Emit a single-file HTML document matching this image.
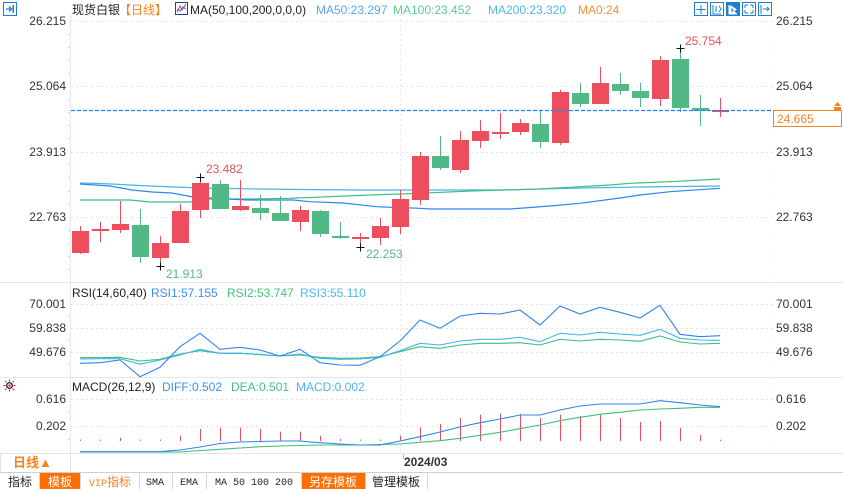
<!DOCTYPE html>
<html><head><meta charset="utf-8"><style>
html,body{margin:0;padding:0;background:#fff;width:843px;height:489px;overflow:hidden}
svg{display:block}
text{font-family:"Liberation Sans","Noto Sans CJK SC",sans-serif;font-size:12px}
.ax{fill:#333}
.mono{font-family:"Liberation Mono","Noto Sans CJK SC",monospace;font-size:10px}
</style></head><body>
<svg width="843" height="489" viewBox="0 0 843 489" xmlns="http://www.w3.org/2000/svg">
<rect width="843" height="489" fill="#fff"/>
<!-- top-left icon -->
<rect x="3.5" y="2.5" width="13" height="13" fill="none" stroke="#1e7fd0"/>
<path d="M6 9h5M9 6.5l2.5 2.5L9 11.5" stroke="#1e7fd0" fill="none" stroke-width="1.3"/>
<rect x="12.5" y="5" width="1.5" height="8" fill="#1e7fd0"/>
<!-- header -->
<text x="72" y="14" fill="#222">现货白银</text>
<text x="119" y="14" fill="#f5821f">【日线】</text>
<rect x="175.5" y="2.5" width="12" height="12" fill="#fff" stroke="#243e8e"/>
<polyline points="177,12 180,6 182,10 186,4" fill="none" stroke="#e53e4e" stroke-width="1"/>
<polyline points="177,9 180,11 183,7 186,9" fill="none" stroke="#2f6fe0" stroke-width="1"/>
<text x="190" y="14" fill="#222">MA(50,100,200,0,0,0)</text>
<text x="316" y="14" fill="#5aa6f2">MA50:23.297</text>
<text x="393" y="14" fill="#58cc95">MA100:23.452</text>
<text x="488" y="14" fill="#53b8e8">MA200:23.320</text>
<text x="578" y="14" fill="#ff8d3d">MA0:24</text>
<!-- top-right icons -->
<g stroke="#1e7fd0" fill="none">
<rect x="694.5" y="2.5" width="13" height="13"/>
<rect x="710.5" y="2.5" width="13" height="13"/>
<rect x="742.5" y="2.5" width="13" height="13"/>
<rect x="758.5" y="2.5" width="13" height="13"/>
</g>
<rect x="726" y="2" width="14" height="14" fill="#1e7fd0"/>
<path d="M701 5v9M696.5 9.5h9" stroke="#1e7fd0"/>
<path d="M713 5v9h8M716 6v6M719 6l2 3-2 3" stroke="#1e7fd0" fill="none"/>
<path d="M729 5v9h8M731 6l5 3.5-5 3.5z" stroke="#fff" fill="#fff"/>
<path d="M745 5h3M745 5v3M753 5h-3M753 5v3M745 13h3M745 13v-3M753 13h-3M753 13v-3" stroke="#1e7fd0"/>
<path d="M761 5v9M763 9h6M767 7l2 2-2 2" stroke="#1e7fd0" fill="none"/>

<!-- axes lines -->
<line x1="70.5" y1="14" x2="70.5" y2="453" stroke="#e3e9ef"/>
<line x1="775.5" y1="14" x2="775.5" y2="453" stroke="#e6e6e6" stroke-dasharray="1 12"/>
<line x1="400.5" y1="14" x2="400.5" y2="453" stroke="#e8e8e8" stroke-dasharray="2 3"/>
<!-- separators -->
<line x1="0" y1="282.5" x2="843" y2="282.5" stroke="#e6e6e6"/>
<line x1="0" y1="377.5" x2="843" y2="377.5" stroke="#e6e6e6"/>
<line x1="0" y1="453.5" x2="843" y2="453.5" stroke="#e6e6e6"/>

<!-- main grid -->
<g stroke="#e4e4e4" stroke-dasharray="2 3">
<line x1="71" y1="21.5" x2="775" y2="21.5"/>
<line x1="71" y1="86.5" x2="775" y2="86.5"/>
<line x1="71" y1="152.5" x2="775" y2="152.5"/>
<line x1="71" y1="217.5" x2="775" y2="217.5"/>
<line x1="71" y1="304.5" x2="775" y2="304.5"/>
<line x1="71" y1="328.5" x2="775" y2="328.5"/>
<line x1="71" y1="352.5" x2="775" y2="352.5"/>
<line x1="71" y1="399.5" x2="775" y2="399.5"/>
<line x1="71" y1="426.5" x2="775" y2="426.5"/>
</g>
<!-- minor ticks -->
<g fill="#cfd6dc">
<rect x="68" y="34" width="2" height="1"/><rect x="68" y="47" width="2" height="1"/><rect x="68" y="60" width="2" height="1"/><rect x="68" y="73" width="2" height="1"/>
<rect x="68" y="99" width="2" height="1"/><rect x="68" y="112" width="2" height="1"/><rect x="68" y="125" width="2" height="1"/><rect x="68" y="138" width="2" height="1"/>
<rect x="68" y="164" width="2" height="1"/><rect x="68" y="177" width="2" height="1"/><rect x="68" y="191" width="2" height="1"/><rect x="68" y="204" width="2" height="1"/>
<rect x="68" y="230" width="2" height="1"/><rect x="68" y="243" width="2" height="1"/><rect x="68" y="256" width="2" height="1"/><rect x="68" y="269" width="2" height="1"/>
<rect x="68" y="316" width="2" height="1"/><rect x="68" y="340" width="2" height="1"/><rect x="68" y="364" width="2" height="1"/>
<rect x="68" y="412" width="2" height="1"/><rect x="68" y="439" width="2" height="1"/>
</g>

<!-- axis labels main -->
<g class="ax">
<text x="66" y="25" text-anchor="end" class="ax">26.215</text>
<text x="66" y="90" text-anchor="end" class="ax">25.064</text>
<text x="66" y="156" text-anchor="end" class="ax">23.913</text>
<text x="66" y="221" text-anchor="end" class="ax">22.763</text>
<text x="776" y="25" class="ax">26.215</text>
<text x="776" y="90" class="ax">25.064</text>
<text x="776" y="156" class="ax">23.913</text>
<text x="776" y="221" class="ax">22.763</text>
<text x="66" y="308" text-anchor="end" class="ax">70.001</text>
<text x="66" y="332" text-anchor="end" class="ax">59.838</text>
<text x="66" y="356" text-anchor="end" class="ax">49.676</text>
<text x="776" y="308" class="ax">70.001</text>
<text x="776" y="332" class="ax">59.838</text>
<text x="776" y="356" class="ax">49.676</text>
<text x="66" y="403" text-anchor="end" class="ax">0.616</text>
<text x="66" y="430" text-anchor="end" class="ax">0.202</text>
<text x="776" y="403" class="ax">0.616</text>
<text x="776" y="430" class="ax">0.202</text>
</g>

<!-- MA lines -->
<polyline fill="none" stroke="#45b5e8" stroke-width="1.2" points="80,183 100,183.5 130,185 150,186 200,188 260,189 300,189.5 360,190 420,190 500,190 540,189 580,188 640,187 720,186"/>
<polyline fill="none" stroke="#3cbf7f" stroke-width="1.2" points="80,200 130,200 150,202 190,202 210,199 253,199 290,198.3 370,195 420,193.3 470,191 530,189.3 570,187.3 610,185 630,183.3 670,181.7 720,179"/>
<polyline fill="none" stroke="#2f86ec" stroke-width="1.2" points="80,184 110,186 132,190 152,192 172,193 193,197 210,198 247,200 293,200 310,201.7 343,203 377,206.7 420,208.3 430,209 510,209 550,206 580,203.3 620,198 640,195 670,191.7 720,188.3"/>

<!-- candles -->
<g fill="#ec4e5d">
<rect x="80" y="226" width="1" height="28"/><rect x="72" y="231" width="17" height="22"/>
<rect x="100" y="222" width="1" height="20"/><rect x="92" y="229" width="17" height="2"/>
<rect x="120" y="201" width="1" height="32"/><rect x="112" y="224" width="17" height="6"/>
<rect x="160" y="236" width="1" height="29"/><rect x="152" y="243" width="17" height="15"/>
<rect x="180" y="204" width="1" height="39"/><rect x="172" y="211" width="17" height="32"/>
<rect x="200" y="177" width="1" height="41"/><rect x="192" y="183" width="17" height="27"/>
<rect x="240" y="180" width="1" height="31"/><rect x="232" y="206" width="17" height="4"/>
<rect x="300" y="206" width="1" height="25"/><rect x="292" y="210" width="17" height="12"/>
<rect x="360" y="233" width="1" height="14"/><rect x="352" y="237" width="17" height="2"/>
<rect x="380" y="218" width="1" height="27"/><rect x="372" y="226" width="17" height="12"/>
<rect x="400" y="190" width="1" height="44"/><rect x="392" y="199" width="17" height="28"/>
<rect x="420" y="152" width="1" height="53"/><rect x="412" y="156" width="17" height="44"/>
<rect x="460" y="131" width="1" height="42"/><rect x="452" y="140" width="17" height="30"/>
<rect x="480" y="120" width="1" height="28"/><rect x="472" y="131" width="17" height="10"/>
<rect x="500" y="113" width="1" height="26"/><rect x="492" y="132" width="17" height="2"/>
<rect x="520" y="119" width="1" height="16"/><rect x="512" y="123" width="17" height="9"/>
<rect x="560" y="90" width="1" height="55"/><rect x="552" y="92" width="17" height="51"/>
<rect x="600" y="67" width="1" height="37"/><rect x="592" y="83" width="17" height="21"/>
<rect x="660" y="56" width="1" height="50"/><rect x="652" y="60" width="17" height="39"/>
<rect x="720" y="98" width="1" height="19"/><rect x="712" y="110" width="17" height="2"/>
</g>
<g fill="#52b986">
<rect x="140" y="209" width="1" height="54"/><rect x="132" y="225" width="17" height="32"/>
<rect x="220" y="180" width="1" height="29"/><rect x="212" y="184" width="17" height="25"/>
<rect x="260" y="195" width="1" height="25"/><rect x="252" y="208" width="17" height="5"/>
<rect x="280" y="196" width="1" height="25"/><rect x="272" y="213" width="17" height="8"/>
<rect x="320" y="210" width="1" height="27"/><rect x="312" y="211" width="17" height="23"/>
<rect x="340" y="222" width="1" height="17"/><rect x="332" y="236" width="17" height="2"/>
<rect x="440" y="136" width="1" height="34"/><rect x="432" y="156" width="17" height="12"/>
<rect x="540" y="111" width="1" height="37"/><rect x="532" y="124" width="17" height="18"/>
<rect x="580" y="83" width="1" height="24"/><rect x="572" y="93" width="17" height="11"/>
<rect x="620" y="73" width="1" height="22"/><rect x="612" y="84" width="17" height="7"/>
<rect x="640" y="83" width="1" height="24"/><rect x="632" y="91" width="17" height="7"/>
<rect x="680" y="48" width="1" height="64"/><rect x="672" y="59" width="17" height="49"/>
<rect x="700" y="95" width="1" height="31"/><rect x="692" y="108" width="17" height="3"/>
</g>

<!-- current price line -->
<line x1="71" y1="110.5" x2="775" y2="110.5" stroke="#1a86f5" stroke-width="1.2" stroke-dasharray="4 2"/>
<rect x="773.5" y="110.5" width="68" height="16" fill="#fff" stroke="#f0841e"/>
<text x="777" y="123" fill="#f0841e">24.665</text>
<path d="M834 106L837.5 102L841 106Z" fill="#f0841e"/>
<rect x="834" y="107" width="7" height="3" fill="#f0841e"/>

<!-- hi/lo marks -->
<g stroke="#111" stroke-width="1">
<path d="M196.5 177.5h8M200.5 173.5v8"/>
<path d="M156.5 266.5h8M160.5 262.5v8"/>
<path d="M356.5 247.5h8M360.5 243.5v8"/>
<path d="M676.5 48.5h8M680.5 44.5v8"/>
</g>
<text x="206" y="173" fill="#ec4e5d">23.482</text>
<text x="166" y="278" fill="#56b88a">21.913</text>
<text x="366" y="258" fill="#56b88a">22.253</text>
<text x="685" y="45" fill="#ec4e5d">25.754</text>

<!-- RSI -->
<text x="72" y="297" fill="#222">RSI(14,60,40)</text>
<text x="151" y="297" fill="#3d8ef0">RSI1:57.155</text>
<text x="227" y="297" fill="#45c081">RSI2:53.747</text>
<text x="300" y="297" fill="#4ab8e8">RSI3:55.110</text>
<polyline fill="none" stroke="#3cbf7f" stroke-width="1.1" points="80,357.7 100,357.7 120,357.3 140,361 160,359.3 180,354 200,350.7 220,353.3 240,353.3 260,354.7 280,356 300,355 320,357.3 340,358.3 360,358 380,356.7 400,351.7 420,346.7 440,348.3 460,345 480,343.3 500,343.3 520,342.7 540,345 560,339.3 580,341 600,339.3 620,340 640,341.3 660,336 680,342 700,344 720,343.3"/>
<polyline fill="none" stroke="#44b4e8" stroke-width="1.1" points="80,359 100,358.7 120,358.7 140,364 160,360 180,355 200,349.3 220,353.3 240,353.3 260,354.3 280,356 300,354 320,358.3 340,359.3 360,359 380,357.3 400,350.7 420,343.3 440,345 460,341 480,339.3 500,339.3 520,337.3 540,341.7 560,333.3 580,335 600,332.3 620,334 640,335.3 660,329.3 680,338.3 700,340 720,340.3"/>
<polyline fill="none" stroke="#2f86ec" stroke-width="1.1" points="80,363.3 100,362.7 120,360 140,376.7 160,367.3 180,346.7 200,333.3 220,349.3 240,347.3 260,350 280,356 300,349.3 320,362.7 340,365 360,365.3 380,356.7 400,341 420,320 440,328.3 460,316 480,313.3 500,314 520,310 540,325 560,306 580,314 600,307.3 620,312.3 640,318 660,305.3 680,334.3 700,336.7 720,335.7"/>

<!-- MACD -->
<circle cx="9.5" cy="385.5" r="2.8" fill="none" stroke="#111" stroke-width="1.2"/>
<circle cx="9.5" cy="385.5" r="1.2" fill="#e02020"/>
<path d="M9.5 379.5v2M9.5 389.5v2M3.5 385.5h2M13.5 385.5h2M5 381l1.4 1.4M12.6 388.6l1.4 1.4M14 381l-1.4 1.4M5 390l1.4-1.4" stroke="#e02020" stroke-width="1"/>
<text x="72" y="391" fill="#222">MACD(26,12,9)</text>
<text x="162" y="391" fill="#3d8ef0">DIFF:0.502</text>
<text x="231" y="391" fill="#45c081">DEA:0.501</text>
<text x="296" y="391" fill="#4ab8e8">MACD:0.002</text>
<g fill="#ec4e5d">
<rect x="120" y="438" width="1" height="3"/>
<rect x="180" y="435.7" width="1" height="5.3"/>
<rect x="200" y="429" width="1" height="12"/>
<rect x="220" y="427.7" width="1" height="13.3"/>
<rect x="240" y="427.7" width="1" height="13.3"/>
<rect x="260" y="429" width="1" height="12"/>
<rect x="280" y="431.7" width="1" height="9.3"/>
<rect x="300" y="431.7" width="1" height="9.3"/>
<rect x="320" y="435.7" width="1" height="5.3"/>
<rect x="340" y="439" width="1" height="2"/>
<rect x="400" y="435.7" width="1" height="5.3"/>
<rect x="420" y="427.3" width="1" height="13.7"/>
<rect x="440" y="424" width="1" height="17"/>
<rect x="460" y="418" width="1" height="23"/>
<rect x="480" y="414.7" width="1" height="26.3"/>
<rect x="500" y="413.7" width="1" height="27.3"/>
<rect x="520" y="413.7" width="1" height="27.3"/>
<rect x="540" y="418" width="1" height="23"/>
<rect x="560" y="414.7" width="1" height="26.3"/>
<rect x="580" y="416" width="1" height="25"/>
<rect x="600" y="414.7" width="1" height="26.3"/>
<rect x="620" y="418" width="1" height="23"/>
<rect x="640" y="422" width="1" height="19"/>
<rect x="660" y="421" width="1" height="20"/>
<rect x="680" y="428" width="1" height="13"/>
<rect x="700" y="435" width="1" height="6"/>
<rect x="720" y="439.7" width="1" height="1.3"/>
</g>
<g fill="#52b986">
<rect x="80" y="439.5" width="1" height="1.5"/>
<rect x="100" y="439.5" width="1" height="1.5"/>
<rect x="140" y="439.5" width="1" height="1.5"/>
<rect x="160" y="439.5" width="1" height="1.5"/>
<rect x="360" y="439.5" width="1" height="1.5"/>
<rect x="380" y="439.5" width="1" height="1.5"/>
</g>
<polyline fill="none" stroke="#3cbf7f" stroke-width="1.1" points="80,452 180,452 200,450.5 220,449.3 240,448 260,446.7 280,446 300,445.5 320,445 360,445 380,444.5 400,444 420,442.3 440,440.7 460,438.3 480,435.3 500,432.3 520,428.7 540,425 560,420.7 580,417.3 600,414.3 620,412.3 640,410 660,409 680,408.3 700,407.3 720,407.3"/>
<polyline fill="none" stroke="#2f86ec" stroke-width="1.1" points="80,451.7 160,451.7 180,450 200,447 220,443.5 240,442 260,441.5 280,441 300,441 320,442.7 340,444 360,445 380,445 400,441 420,436.7 440,432 460,427 480,422.7 500,419 520,415 540,415 560,410 580,406 600,404 620,404 640,404 660,400.7 680,402.7 700,405 720,406.7"/>

<!-- date axis -->
<rect x="0.5" y="453.5" width="70" height="19" fill="#fff" stroke="#e3e3e3"/>
<text x="13" y="467" fill="#f5821f" style="font-size:13px;font-weight:bold">日线▲</text>
<line x1="403.5" y1="454" x2="403.5" y2="459" stroke="#bbb"/>
<text x="404" y="466" fill="#333" style="font-weight:bold">2024/03</text>

<!-- toolbar -->
<line x1="0" y1="472.5" x2="843" y2="472.5" stroke="#cfcfcf"/>
<rect x="39" y="473" width="41" height="16" fill="#ff6f00"/>
<rect x="301" y="473" width="64" height="16" fill="#ff6f00"/>
<g stroke="#d6d6d6">
<line x1="39.5" y1="473" x2="39.5" y2="489"/>
<line x1="80.5" y1="473" x2="80.5" y2="489"/>
<line x1="139.5" y1="473" x2="139.5" y2="489"/>
<line x1="172.5" y1="473" x2="172.5" y2="489"/>
<line x1="206.5" y1="473" x2="206.5" y2="489"/>
<line x1="301.5" y1="473" x2="301.5" y2="489"/>
<line x1="365.5" y1="473" x2="365.5" y2="489"/>
<line x1="427.5" y1="473" x2="427.5" y2="489"/>
</g>
<text x="8" y="486" fill="#222">指标</text>
<text x="48" y="486" fill="#fff">模板</text>
<text x="89" y="486" fill="#f5821f"><tspan class="mono" style="font-size:10px">VIP</tspan>指标</text>
<text x="146" y="485" class="mono" fill="#222">SMA</text>
<text x="180" y="485" class="mono" fill="#222">EMA</text>
<text x="215" y="485" class="mono" fill="#222">MA 50 100 200</text>
<text x="309" y="486" fill="#fff">另存模板</text>
<text x="372" y="486" fill="#222">管理模板</text>
</svg>
</body></html>
